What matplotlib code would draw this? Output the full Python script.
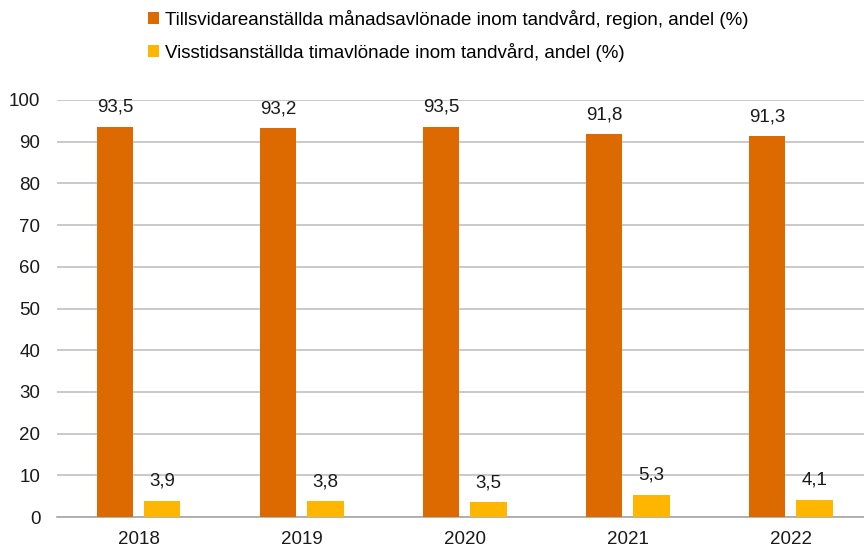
import numpy as np
import matplotlib.pyplot as plt

plt.rcParams['font.family'] = ['Liberation Sans', 'DejaVu Sans']

years = ["2018", "2019", "2020", "2021", "2022"]
manad = [93.5, 93.2, 93.5, 91.8, 91.3]
timav = [3.9, 3.8, 3.5, 5.3, 4.1]
labels = ["Tillsvidareanställda månadsavlönade inom tandvård, region, andel (%)",
          "Visstidsanställda timavlönade inom tandvård, andel (%)"]

ORANGE = "#DD6A00"
YELLOW = "#FFB600"
FS = 13.5

fig = plt.figure(figsize=(8.64, 5.49), dpi=100)
ax = fig.add_axes([57/864, 32/549, 807/864, 417/549])

x = np.arange(len(years))
w = 0.225
b1 = ax.bar(x - 0.145, manad, w, color=ORANGE, label=labels[0], zorder=3)
b2 = ax.bar(x + 0.145, timav, w, color=YELLOW, label=labels[1], zorder=3)

for bars, vals in ((b1, manad), (b2, timav)):
    for r, v in zip(bars, vals):
        ax.annotate(f"{v:.1f}".replace(".", ","),
                    (r.get_x() + r.get_width() / 2, v),
                    xytext=(0, 8), textcoords="offset points",
                    ha="center", va="bottom", fontsize=FS, color="#1a1a1a")

ax.set_xlim(-0.5, 4.45)
ax.set_ylim(0, 100)
ax.set_yticks(range(0, 101, 10))
ax.set_xticks(x)
ax.set_xticklabels(years)
ax.tick_params(length=0, labelsize=FS, colors="#1a1a1a")
ax.tick_params(axis="y", pad=12)
ax.tick_params(axis="x", pad=10)
ax.yaxis.grid(True, color="#C0C0C0", linewidth=1.2, zorder=0)
for s in ["top", "right", "left"]:
    ax.spines[s].set_visible(False)
ax.spines["bottom"].set_color("#A6A6A6")
ax.spines["bottom"].set_linewidth(1.2)

handles = [b1, b2]
fig.legend(handles, labels, loc="upper left", bbox_to_anchor=(131/864, 1.013),
           frameon=False, fontsize=FS, handlelength=0.6, handleheight=0.6,
           handletextpad=0.3, labelspacing=0.75)

fig.savefig("out.png", dpi=100)
